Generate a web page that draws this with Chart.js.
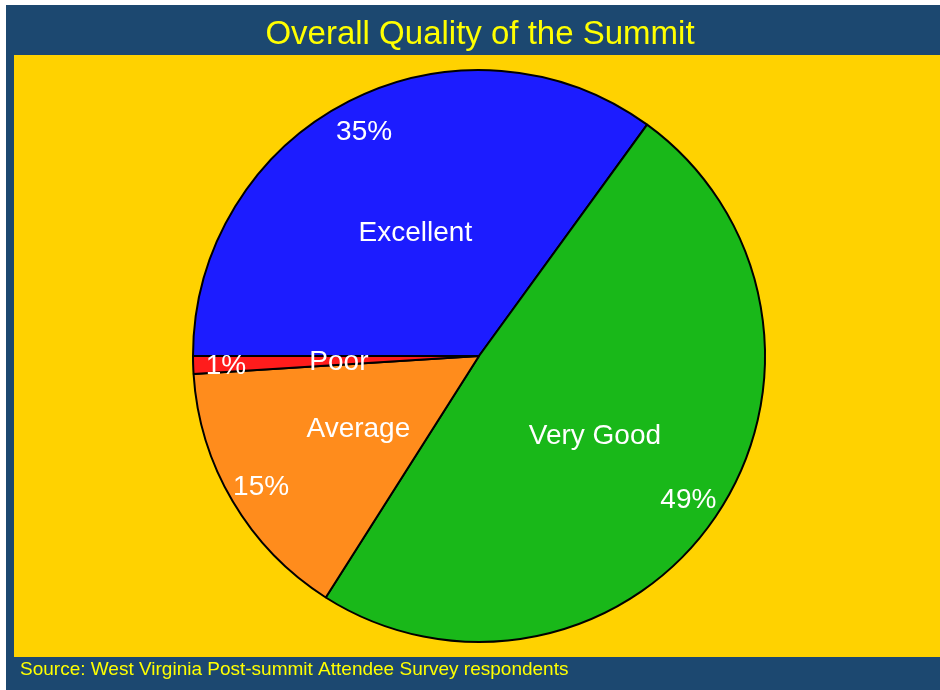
<!DOCTYPE html>
<html>
<head>
<meta charset="utf-8">
<script src="https://cdn.jsdelivr.net/npm/chart.js@4.4.1/dist/chart.umd.min.js"></script>
<style>
html,body{margin:0;padding:0;background:#fff;}
#wrap{position:relative;width:940px;height:690px;}
</style>
</head>
<body>
<div id="wrap"><canvas id="c" width="940" height="690"></canvas></div>
<script>
const categories = ["Excellent", "Very Good", "Average", "Poor"];
const percentValues = [35, 49, 15, 1];
const percentLabels = ["35%", "49%", "15%", "1%"];
const sliceColors = ["#1C1CFF", "#19B819", "#FF8C1C", "#FF1C1C"];
const titleText = "Overall Quality of the Summit";
const sourceText = "Source: West Virginia Post-summit Attendee Survey respondents";

const FONT = '"Liberation Sans", Arial, sans-serif';

const framePlugin = {
  id: 'frame',
  beforeDraw(chart) {
    const ctx = chart.ctx;
    ctx.save();
    ctx.fillStyle = '#ffffff';
    ctx.fillRect(0, 0, 940, 690);
    ctx.fillStyle = '#1C4870';
    ctx.fillRect(6, 5, 934, 685);
    ctx.fillStyle = '#FFD200';
    ctx.fillRect(14, 55, 926, 602);
    ctx.fillStyle = '#FFFF00';
    ctx.font = '33px ' + FONT;
    ctx.textAlign = 'center';
    ctx.textBaseline = 'middle';
    ctx.fillText(titleText, 480, 35);
    ctx.font = '19px ' + FONT;
    ctx.textAlign = 'left';
    ctx.fillText(sourceText, 20, 670);
    ctx.restore();
  }
};

const labelPlugin = {
  id: 'sliceLabels',
  afterDatasetsDraw(chart) {
    const ctx = chart.ctx;
    const meta = chart.getDatasetMeta(0);
    ctx.save();
    ctx.fillStyle = '#ffffff';
    ctx.font = '28px ' + FONT;
    ctx.textAlign = 'center';
    ctx.textBaseline = 'middle';
    meta.data.forEach((arc, i) => {
      const p = arc.getProps(['x', 'y', 'startAngle', 'endAngle', 'outerRadius'], true);
      const mid = (p.startAngle + p.endAngle) / 2;
      const r1 = p.outerRadius * 0.49;
      const r2 = p.outerRadius * 0.885;
      ctx.fillText(categories[i], p.x + Math.cos(mid) * r1, p.y + Math.sin(mid) * r1 + 2);
      ctx.fillText(percentLabels[i], p.x + Math.cos(mid) * r2, p.y + Math.sin(mid) * r2 + 2);
    });
    ctx.restore();
  }
};

new Chart(document.getElementById('c'), {
  type: 'pie',
  data: {
    labels: categories,
    datasets: [{
      data: percentValues,
      backgroundColor: sliceColors,
      borderColor: '#000000',
      borderWidth: 2
    }]
  },
  options: {
    responsive: false,
    animation: false,
    rotation: -90,
    radius: 286,
    layout: { padding: { left: 30, right: 12, top: 62, bottom: 40 } },
    plugins: {
      legend: { display: false },
      title: { display: false },
      tooltip: { enabled: false }
    }
  },
  plugins: [framePlugin, labelPlugin]
});
</script>
</body>
</html>
